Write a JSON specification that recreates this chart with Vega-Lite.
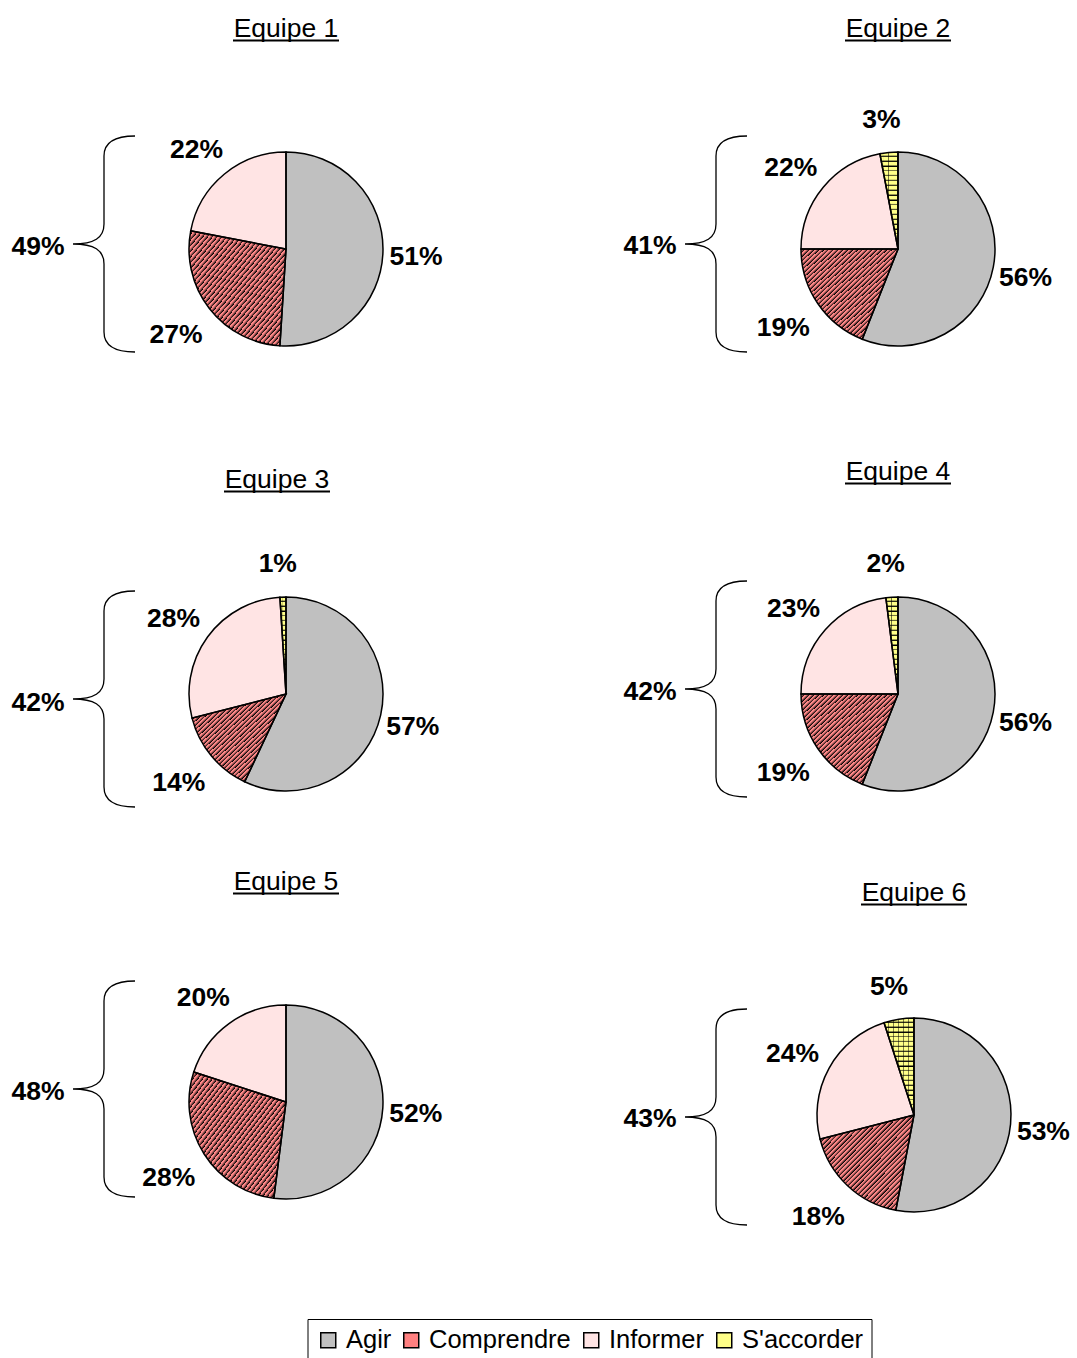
{
  "$schema": "https://vega.github.io/schema/vega-lite/v6.json",
  "padding": {"left": 11, "top": 15, "right": 0, "bottom": 0},
  "background": "white",
  "datasets": {
    "parts": [
      {"Equipe": "Equipe 1", "Categorie": "Agir", "Part": 0.51},
      {"Equipe": "Equipe 1", "Categorie": "Comprendre", "Part": 0.27},
      {"Equipe": "Equipe 1", "Categorie": "Informer", "Part": 0.22},
      {"Equipe": "Equipe 2", "Categorie": "Agir", "Part": 0.56},
      {"Equipe": "Equipe 2", "Categorie": "Comprendre", "Part": 0.19},
      {"Equipe": "Equipe 2", "Categorie": "Informer", "Part": 0.22},
      {"Equipe": "Equipe 2", "Categorie": "S'accorder", "Part": 0.03},
      {"Equipe": "Equipe 3", "Categorie": "Agir", "Part": 0.57},
      {"Equipe": "Equipe 3", "Categorie": "Comprendre", "Part": 0.14},
      {"Equipe": "Equipe 3", "Categorie": "Informer", "Part": 0.28},
      {"Equipe": "Equipe 3", "Categorie": "S'accorder", "Part": 0.01},
      {"Equipe": "Equipe 4", "Categorie": "Agir", "Part": 0.56},
      {"Equipe": "Equipe 4", "Categorie": "Comprendre", "Part": 0.19},
      {"Equipe": "Equipe 4", "Categorie": "Informer", "Part": 0.23},
      {"Equipe": "Equipe 4", "Categorie": "S'accorder", "Part": 0.02},
      {"Equipe": "Equipe 5", "Categorie": "Agir", "Part": 0.52},
      {"Equipe": "Equipe 5", "Categorie": "Comprendre", "Part": 0.28},
      {"Equipe": "Equipe 5", "Categorie": "Informer", "Part": 0.20},
      {"Equipe": "Equipe 6", "Categorie": "Agir", "Part": 0.53},
      {"Equipe": "Equipe 6", "Categorie": "Comprendre", "Part": 0.18},
      {"Equipe": "Equipe 6", "Categorie": "Informer", "Part": 0.24},
      {"Equipe": "Equipe 6", "Categorie": "S'accorder", "Part": 0.05}
    ],
    "accolades": [
      {"Equipe": "Equipe 1", "Total": 0.49},
      {"Equipe": "Equipe 2", "Total": 0.41},
      {"Equipe": "Equipe 3", "Total": 0.42},
      {"Equipe": "Equipe 4", "Total": 0.42},
      {"Equipe": "Equipe 5", "Total": 0.48},
      {"Equipe": "Equipe 6", "Total": 0.43}
    ]
  },
  "spacing": 40,
  "vconcat": [
    {
      "spacing": 172,
      "hconcat": [
        {
          "width": 330, "height": 338,
          "title": {"text": "Equipe 1", "offset": -5.5},
          "layer": [
            {
              "data": {"name": "parts"},
              "transform": [{"filter": {"field": "Equipe", "equal": "Equipe 1"}}],
              "encoding": {
                "theta": {"field": "Part", "type": "quantitative", "stack": true},
                "order": {"field": "Categorie", "type": "ordinal"},
                "detail": {"field": "Categorie", "type": "nominal"}
              },
              "layer": [
                {"mark": {"type": "arc", "outerRadius": 97}, "encoding": {"color": {"field": "Categorie", "type": "nominal", "scale": {"domain": ["Agir", "Comprendre", "Informer", "S'accorder"], "range": ["#c0c0c0", "#ff8080", "#ffe4e4", "#ffff88"]}, "legend": {"orient": "none", "legendX": 186.5, "legendY": 1239, "direction": "horizontal", "columns": 4, "title": null}}}},
                {"mark": {"type": "arc", "outerRadius": 97, "style": "hachures"}, "encoding": {"fillOpacity": {"condition": {"test": {"field": "Categorie", "equal": "Comprendre"}, "value": 1}, "value": 0}}},
                {"mark": {"type": "arc", "outerRadius": 97, "fillOpacity": 0, "stroke": "black", "strokeWidth": 1.5}},
                {"mark": {"type": "text", "radius": 134, "dx": -4, "dy": 4}, "encoding": {"text": {"field": "Part", "type": "quantitative", "format": ".0%"}}}
              ]
            },
            {
              "data": {"name": "accolades"},
              "transform": [{"filter": {"field": "Equipe", "equal": "Equipe 1"}}],
              "layer": [
                {"mark": {"type": "point", "shape": "M-151,-108C-170,-108,-182,-102,-182,-88L-182,-20C-182,-6,-192,0,-213,0C-192,0,-182,6,-182,20L-182,88C-182,102,-170,108,-151,108", "size": 4, "filled": false, "stroke": "black", "strokeWidth": 1.3, "opacity": 1, "yOffset": -5}, "encoding": {}},
                {"mark": {"type": "text", "dx": -248, "yOffset": -2}, "encoding": {"text": {"field": "Total", "type": "quantitative", "format": ".0%"}}},
                {"mark": {"type": "point", "shape": "M-53,0L53,0", "size": 4, "filled": false, "stroke": "black", "strokeWidth": 2, "opacity": 1, "yOffset": -208.5}, "encoding": {}}
              ]
            }
          ]
        },
        {
          "width": 300, "height": 338,
          "title": {"text": "Equipe 2", "offset": -5.5},
          "layer": [
            {
              "data": {"name": "parts"},
              "transform": [{"filter": {"field": "Equipe", "equal": "Equipe 2"}}],
              "encoding": {
                "theta": {"field": "Part", "type": "quantitative", "stack": true},
                "order": {"field": "Categorie", "type": "ordinal"},
                "detail": {"field": "Categorie", "type": "nominal"}
              },
              "layer": [
                {"mark": {"type": "arc", "outerRadius": 97}, "encoding": {"color": {"field": "Categorie", "type": "nominal", "scale": {"domain": ["Agir", "Comprendre", "Informer", "S'accorder"], "range": ["#c0c0c0", "#ff8080", "#ffe4e4", "#ffff88"]}, "legend": {"orient": "none", "legendX": 186.5, "legendY": 1239, "direction": "horizontal", "columns": 4, "title": null}}}},
                {"mark": {"type": "arc", "outerRadius": 97, "style": "hachures"}, "encoding": {"fillOpacity": {"condition": {"test": {"field": "Categorie", "equal": "Comprendre"}, "value": 1}, "value": 0}}},
                {"mark": {"type": "arc", "outerRadius": 97, "style": "grille"}, "encoding": {"fillOpacity": {"condition": {"test": {"field": "Categorie", "equal": "S'accorder"}, "value": 1}, "value": 0}}},
                {"mark": {"type": "arc", "outerRadius": 97, "style": "grilleV4"}, "encoding": {"fillOpacity": {"condition": {"test": {"field": "Categorie", "equal": "S'accorder"}, "value": 1}, "value": 0}}},
                {"mark": {"type": "arc", "outerRadius": 97, "fillOpacity": 0, "stroke": "black", "strokeWidth": 1.5}},
                {"mark": {"type": "text", "radius": 134, "dx": -4, "dy": 4}, "encoding": {"text": {"field": "Part", "type": "quantitative", "format": ".0%"}}}
              ]
            },
            {
              "data": {"name": "accolades"},
              "transform": [{"filter": {"field": "Equipe", "equal": "Equipe 2"}}],
              "layer": [
                {"mark": {"type": "point", "shape": "M-151,-108C-170,-108,-182,-102,-182,-88L-182,-20C-182,-6,-192,0,-213,0C-192,0,-182,6,-182,20L-182,88C-182,102,-170,108,-151,108", "size": 4, "filled": false, "stroke": "black", "strokeWidth": 1.3, "opacity": 1, "yOffset": -5}, "encoding": {}},
                {"mark": {"type": "text", "dx": -248, "yOffset": -3}, "encoding": {"text": {"field": "Total", "type": "quantitative", "format": ".0%"}}},
                {"mark": {"type": "point", "shape": "M-53,0L53,0", "size": 4, "filled": false, "stroke": "black", "strokeWidth": 2, "opacity": 1, "yOffset": -208.5}, "encoding": {}}
              ]
            }
          ]
        }
      ]
    },
    {
      "spacing": 172,
      "hconcat": [
        {
          "width": 330, "height": 268,
          "title": {"text": "Equipe 3", "offset": -5.5, "dx": -9},
          "layer": [
            {
              "data": {"name": "parts"},
              "transform": [{"filter": {"field": "Equipe", "equal": "Equipe 3"}}],
              "encoding": {
                "theta": {"field": "Part", "type": "quantitative", "stack": true},
                "order": {"field": "Categorie", "type": "ordinal"},
                "detail": {"field": "Categorie", "type": "nominal"}
              },
              "layer": [
                {"mark": {"type": "arc", "outerRadius": 97}, "encoding": {"color": {"field": "Categorie", "type": "nominal", "scale": {"domain": ["Agir", "Comprendre", "Informer", "S'accorder"], "range": ["#c0c0c0", "#ff8080", "#ffe4e4", "#ffff88"]}, "legend": {"orient": "none", "legendX": 186.5, "legendY": 1239, "direction": "horizontal", "columns": 4, "title": null}}}},
                {"mark": {"type": "arc", "outerRadius": 97, "style": "hachures"}, "encoding": {"fillOpacity": {"condition": {"test": {"field": "Categorie", "equal": "Comprendre"}, "value": 1}, "value": 0}}},
                {"mark": {"type": "arc", "outerRadius": 97, "style": "grille"}, "encoding": {"fillOpacity": {"condition": {"test": {"field": "Categorie", "equal": "S'accorder"}, "value": 1}, "value": 0}}},
                {"mark": {"type": "arc", "outerRadius": 97, "style": "grilleV1"}, "encoding": {"fillOpacity": {"condition": {"test": {"field": "Categorie", "equal": "S'accorder"}, "value": 1}, "value": 0}}},
                {"mark": {"type": "arc", "outerRadius": 97, "fillOpacity": 0, "stroke": "black", "strokeWidth": 1.5}},
                {"mark": {"type": "text", "radius": 134, "dx": -4, "dy": 4}, "encoding": {"text": {"field": "Part", "type": "quantitative", "format": ".0%"}}}
              ]
            },
            {
              "data": {"name": "accolades"},
              "transform": [{"filter": {"field": "Equipe", "equal": "Equipe 3"}}],
              "layer": [
                {"mark": {"type": "point", "shape": "M-151,-108C-170,-108,-182,-102,-182,-88L-182,-20C-182,-6,-192,0,-213,0C-192,0,-182,6,-182,20L-182,88C-182,102,-170,108,-151,108", "size": 4, "filled": false, "stroke": "black", "strokeWidth": 1.3, "opacity": 1, "yOffset": 5}, "encoding": {}},
                {"mark": {"type": "text", "dx": -248, "yOffset": 9}, "encoding": {"text": {"field": "Total", "type": "quantitative", "format": ".0%"}}},
                {"mark": {"type": "point", "shape": "M-53,0L53,0", "size": 4, "filled": false, "stroke": "black", "strokeWidth": 2, "opacity": 1, "yOffset": -202.5, "xOffset": -9}, "encoding": {}}
              ]
            }
          ]
        },
        {
          "width": 300, "height": 268,
          "title": {"text": "Equipe 4", "offset": -5.5},
          "layer": [
            {
              "data": {"name": "parts"},
              "transform": [{"filter": {"field": "Equipe", "equal": "Equipe 4"}}],
              "encoding": {
                "theta": {"field": "Part", "type": "quantitative", "stack": true},
                "order": {"field": "Categorie", "type": "ordinal"},
                "detail": {"field": "Categorie", "type": "nominal"}
              },
              "layer": [
                {"mark": {"type": "arc", "outerRadius": 97}, "encoding": {"color": {"field": "Categorie", "type": "nominal", "scale": {"domain": ["Agir", "Comprendre", "Informer", "S'accorder"], "range": ["#c0c0c0", "#ff8080", "#ffe4e4", "#ffff88"]}, "legend": {"orient": "none", "legendX": 186.5, "legendY": 1239, "direction": "horizontal", "columns": 4, "title": null}}}},
                {"mark": {"type": "arc", "outerRadius": 97, "style": "hachures"}, "encoding": {"fillOpacity": {"condition": {"test": {"field": "Categorie", "equal": "Comprendre"}, "value": 1}, "value": 0}}},
                {"mark": {"type": "arc", "outerRadius": 97, "style": "grille"}, "encoding": {"fillOpacity": {"condition": {"test": {"field": "Categorie", "equal": "S'accorder"}, "value": 1}, "value": 0}}},
                {"mark": {"type": "arc", "outerRadius": 97, "style": "grilleV2"}, "encoding": {"fillOpacity": {"condition": {"test": {"field": "Categorie", "equal": "S'accorder"}, "value": 1}, "value": 0}}},
                {"mark": {"type": "arc", "outerRadius": 97, "fillOpacity": 0, "stroke": "black", "strokeWidth": 1.5}},
                {"mark": {"type": "text", "radius": 134, "dx": -4, "dy": 4}, "encoding": {"text": {"field": "Part", "type": "quantitative", "format": ".0%"}}}
              ]
            },
            {
              "data": {"name": "accolades"},
              "transform": [{"filter": {"field": "Equipe", "equal": "Equipe 4"}}],
              "layer": [
                {"mark": {"type": "point", "shape": "M-151,-108C-170,-108,-182,-102,-182,-88L-182,-20C-182,-6,-192,0,-213,0C-192,0,-182,6,-182,20L-182,88C-182,102,-170,108,-151,108", "size": 4, "filled": false, "stroke": "black", "strokeWidth": 1.3, "opacity": 1, "yOffset": -5}, "encoding": {}},
                {"mark": {"type": "text", "dx": -248, "yOffset": -2}, "encoding": {"text": {"field": "Total", "type": "quantitative", "format": ".0%"}}},
                {"mark": {"type": "point", "shape": "M-53,0L53,0", "size": 4, "filled": false, "stroke": "black", "strokeWidth": 2, "opacity": 1, "yOffset": -210.5}, "encoding": {}}
              ]
            }
          ]
        }
      ]
    },
    {
      "spacing": 172,
      "hconcat": [
        {
          "width": 330, "height": 220,
          "title": {"text": "Equipe 5", "offset": -5.5},
          "layer": [
            {
              "data": {"name": "parts"},
              "transform": [{"filter": {"field": "Equipe", "equal": "Equipe 5"}}],
              "encoding": {
                "theta": {"field": "Part", "type": "quantitative", "stack": true},
                "order": {"field": "Categorie", "type": "ordinal"},
                "detail": {"field": "Categorie", "type": "nominal"}
              },
              "layer": [
                {"mark": {"type": "arc", "outerRadius": 97}, "encoding": {"color": {"field": "Categorie", "type": "nominal", "scale": {"domain": ["Agir", "Comprendre", "Informer", "S'accorder"], "range": ["#c0c0c0", "#ff8080", "#ffe4e4", "#ffff88"]}, "legend": {"orient": "none", "legendX": 186.5, "legendY": 1239, "direction": "horizontal", "columns": 4, "title": null}}}},
                {"mark": {"type": "arc", "outerRadius": 97, "style": "hachures"}, "encoding": {"fillOpacity": {"condition": {"test": {"field": "Categorie", "equal": "Comprendre"}, "value": 1}, "value": 0}}},
                {"mark": {"type": "arc", "outerRadius": 97, "fillOpacity": 0, "stroke": "black", "strokeWidth": 1.5}},
                {"mark": {"type": "text", "radius": 134, "dx": -4, "dy": 4}, "encoding": {"text": {"field": "Part", "type": "quantitative", "format": ".0%"}}}
              ]
            },
            {
              "data": {"name": "accolades"},
              "transform": [{"filter": {"field": "Equipe", "equal": "Equipe 5"}}],
              "layer": [
                {"mark": {"type": "point", "shape": "M-151,-108C-170,-108,-182,-102,-182,-88L-182,-20C-182,-6,-192,0,-213,0C-192,0,-182,6,-182,20L-182,88C-182,102,-170,108,-151,108", "size": 4, "filled": false, "stroke": "black", "strokeWidth": 1.3, "opacity": 1, "yOffset": -13}, "encoding": {}},
                {"mark": {"type": "text", "dx": -248, "yOffset": -10}, "encoding": {"text": {"field": "Total", "type": "quantitative", "format": ".0%"}}},
                {"mark": {"type": "point", "shape": "M-53,0L53,0", "size": 4, "filled": false, "stroke": "black", "strokeWidth": 2, "opacity": 1, "yOffset": -208.5}, "encoding": {}}
              ]
            }
          ]
        },
        {
          "width": 300, "height": 246,
          "title": {"text": "Equipe 6", "offset": -5.5},
          "layer": [
            {
              "data": {"name": "parts"},
              "transform": [{"filter": {"field": "Equipe", "equal": "Equipe 6"}}],
              "encoding": {
                "theta": {"field": "Part", "type": "quantitative", "stack": true},
                "order": {"field": "Categorie", "type": "ordinal"},
                "detail": {"field": "Categorie", "type": "nominal"}
              },
              "layer": [
                {"mark": {"type": "arc", "outerRadius": 97}, "encoding": {"color": {"field": "Categorie", "type": "nominal", "scale": {"domain": ["Agir", "Comprendre", "Informer", "S'accorder"], "range": ["#c0c0c0", "#ff8080", "#ffe4e4", "#ffff88"]}, "legend": {"orient": "none", "legendX": 186.5, "legendY": 1239, "direction": "horizontal", "columns": 4, "title": null}}}},
                {"mark": {"type": "arc", "outerRadius": 97, "style": "hachures"}, "encoding": {"fillOpacity": {"condition": {"test": {"field": "Categorie", "equal": "Comprendre"}, "value": 1}, "value": 0}}},
                {"mark": {"type": "arc", "outerRadius": 97, "style": "grille"}, "encoding": {"fillOpacity": {"condition": {"test": {"field": "Categorie", "equal": "S'accorder"}, "value": 1}, "value": 0}}},
                {"mark": {"type": "arc", "outerRadius": 97, "style": "grilleV6"}, "encoding": {"fillOpacity": {"condition": {"test": {"field": "Categorie", "equal": "S'accorder"}, "value": 1}, "value": 0}}},
                {"mark": {"type": "arc", "outerRadius": 97, "fillOpacity": 0, "stroke": "black", "strokeWidth": 1.5}},
                {"mark": {"type": "text", "radius": 134, "dx": -4, "dy": 4}, "encoding": {"text": {"field": "Part", "type": "quantitative", "format": ".0%"}}}
              ]
            },
            {
              "data": {"name": "accolades"},
              "transform": [{"filter": {"field": "Equipe", "equal": "Equipe 6"}}],
              "layer": [
                {"mark": {"type": "point", "shape": "M-151,-108C-170,-108,-182,-102,-182,-88L-182,-20C-182,-6,-192,0,-213,0C-192,0,-182,6,-182,20L-182,88C-182,102,-170,108,-151,108", "size": 4, "filled": false, "stroke": "black", "strokeWidth": 1.3, "opacity": 1, "yOffset": 2, "xOffset": -16}, "encoding": {}},
                {"mark": {"type": "text", "dx": -264, "yOffset": 4}, "encoding": {"text": {"field": "Total", "type": "quantitative", "format": ".0%"}}},
                {"mark": {"type": "point", "shape": "M-53,0L53,0", "size": 4, "filled": false, "stroke": "black", "strokeWidth": 2, "opacity": 1, "yOffset": -210.5}, "encoding": {}}
              ]
            }
          ]
        }
      ]
    }
  ],
  "config": {
    "view": {"stroke": null},
    "font": "Liberation Sans",
    "title": {"font": "Liberation Sans", "fontSize": 26.5, "fontWeight": "normal", "color": "black", "anchor": "middle", "frame": "group"},
    "text": {"font": "Liberation Sans", "fontWeight": "bold", "fontSize": 26.5, "color": "black"},
    "legend": {"symbolType": "square", "symbolSize": 225, "symbolStrokeColor": "black", "symbolStrokeWidth": 1.5, "labelFont": "Liberation Sans", "labelFontSize": 25.5, "labelColor": "black", "strokeColor": "black", "padding": 8, "columnPadding": 7, "labelOffset": 5},
    "style": {
      "hachures": {"color": {"gradient": "linear", "x1": 0, "y1": 0, "x2": 1, "y2": 1, "stops": [
        {"offset": 0, "color": "#f88"}, {"offset": 0.0075, "color": "#f88"}, {"offset": 0.025, "color": "#000"},
        {"offset": 0.025, "color": "#f88"}, {"offset": 0.0325, "color": "#f88"}, {"offset": 0.05, "color": "#000"},
        {"offset": 0.05, "color": "#f88"}, {"offset": 0.0575, "color": "#f88"}, {"offset": 0.075, "color": "#000"},
        {"offset": 0.075, "color": "#f88"}, {"offset": 0.0825, "color": "#f88"}, {"offset": 0.1, "color": "#000"},
        {"offset": 0.1, "color": "#f88"}, {"offset": 0.1075, "color": "#f88"}, {"offset": 0.125, "color": "#000"},
        {"offset": 0.125, "color": "#f88"}, {"offset": 0.1325, "color": "#f88"}, {"offset": 0.15, "color": "#000"},
        {"offset": 0.15, "color": "#f88"}, {"offset": 0.1575, "color": "#f88"}, {"offset": 0.175, "color": "#000"},
        {"offset": 0.175, "color": "#f88"}, {"offset": 0.1825, "color": "#f88"}, {"offset": 0.2, "color": "#000"},
        {"offset": 0.2, "color": "#f88"}, {"offset": 0.2075, "color": "#f88"}, {"offset": 0.225, "color": "#000"},
        {"offset": 0.225, "color": "#f88"}, {"offset": 0.2325, "color": "#f88"}, {"offset": 0.25, "color": "#000"},
        {"offset": 0.25, "color": "#f88"}, {"offset": 0.2575, "color": "#f88"}, {"offset": 0.275, "color": "#000"},
        {"offset": 0.275, "color": "#f88"}, {"offset": 0.2825, "color": "#f88"}, {"offset": 0.3, "color": "#000"},
        {"offset": 0.3, "color": "#f88"}, {"offset": 0.3075, "color": "#f88"}, {"offset": 0.325, "color": "#000"},
        {"offset": 0.325, "color": "#f88"}, {"offset": 0.3325, "color": "#f88"}, {"offset": 0.35, "color": "#000"},
        {"offset": 0.35, "color": "#f88"}, {"offset": 0.3575, "color": "#f88"}, {"offset": 0.375, "color": "#000"},
        {"offset": 0.375, "color": "#f88"}, {"offset": 0.3825, "color": "#f88"}, {"offset": 0.4, "color": "#000"},
        {"offset": 0.4, "color": "#f88"}, {"offset": 0.4075, "color": "#f88"}, {"offset": 0.425, "color": "#000"},
        {"offset": 0.425, "color": "#f88"}, {"offset": 0.4325, "color": "#f88"}, {"offset": 0.45, "color": "#000"},
        {"offset": 0.45, "color": "#f88"}, {"offset": 0.4575, "color": "#f88"}, {"offset": 0.475, "color": "#000"},
        {"offset": 0.475, "color": "#f88"}, {"offset": 0.4825, "color": "#f88"}, {"offset": 0.5, "color": "#000"},
        {"offset": 0.5, "color": "#f88"}, {"offset": 0.5075, "color": "#f88"}, {"offset": 0.525, "color": "#000"},
        {"offset": 0.525, "color": "#f88"}, {"offset": 0.5325, "color": "#f88"}, {"offset": 0.55, "color": "#000"},
        {"offset": 0.55, "color": "#f88"}, {"offset": 0.5575, "color": "#f88"}, {"offset": 0.575, "color": "#000"},
        {"offset": 0.575, "color": "#f88"}, {"offset": 0.5825, "color": "#f88"}, {"offset": 0.6, "color": "#000"},
        {"offset": 0.6, "color": "#f88"}, {"offset": 0.6075, "color": "#f88"}, {"offset": 0.625, "color": "#000"},
        {"offset": 0.625, "color": "#f88"}, {"offset": 0.6325, "color": "#f88"}, {"offset": 0.65, "color": "#000"},
        {"offset": 0.65, "color": "#f88"}, {"offset": 0.6575, "color": "#f88"}, {"offset": 0.675, "color": "#000"},
        {"offset": 0.675, "color": "#f88"}, {"offset": 0.6825, "color": "#f88"}, {"offset": 0.7, "color": "#000"},
        {"offset": 0.7, "color": "#f88"}, {"offset": 0.7075, "color": "#f88"}, {"offset": 0.725, "color": "#000"},
        {"offset": 0.725, "color": "#f88"}, {"offset": 0.7325, "color": "#f88"}, {"offset": 0.75, "color": "#000"},
        {"offset": 0.75, "color": "#f88"}, {"offset": 0.7575, "color": "#f88"}, {"offset": 0.775, "color": "#000"},
        {"offset": 0.775, "color": "#f88"}, {"offset": 0.7825, "color": "#f88"}, {"offset": 0.8, "color": "#000"},
        {"offset": 0.8, "color": "#f88"}, {"offset": 0.8075, "color": "#f88"}, {"offset": 0.825, "color": "#000"},
        {"offset": 0.825, "color": "#f88"}, {"offset": 0.8325, "color": "#f88"}, {"offset": 0.85, "color": "#000"},
        {"offset": 0.85, "color": "#f88"}, {"offset": 0.8575, "color": "#f88"}, {"offset": 0.875, "color": "#000"},
        {"offset": 0.875, "color": "#f88"}, {"offset": 0.8825, "color": "#f88"}, {"offset": 0.9, "color": "#000"},
        {"offset": 0.9, "color": "#f88"}, {"offset": 0.9075, "color": "#f88"}, {"offset": 0.925, "color": "#000"},
        {"offset": 0.925, "color": "#f88"}, {"offset": 0.9325, "color": "#f88"}, {"offset": 0.95, "color": "#000"},
        {"offset": 0.95, "color": "#f88"}, {"offset": 0.9575, "color": "#f88"}, {"offset": 0.975, "color": "#000"},
        {"offset": 0.975, "color": "#f88"}, {"offset": 0.9825, "color": "#f88"}, {"offset": 1, "color": "#000"}
      ]}},
      "grille": {"color": {"gradient": "linear", "x1": 0, "y1": 0, "x2": 0, "y2": 1, "stops": [
        {"offset": 0, "color": "#ff8"}, {"offset": 0.03, "color": "#ff8"}, {"offset": 0.05, "color": "#000"},
        {"offset": 0.05, "color": "#ff8"}, {"offset": 0.08, "color": "#ff8"}, {"offset": 0.1, "color": "#000"},
        {"offset": 0.1, "color": "#ff8"}, {"offset": 0.13, "color": "#ff8"}, {"offset": 0.15, "color": "#000"},
        {"offset": 0.15, "color": "#ff8"}, {"offset": 0.18, "color": "#ff8"}, {"offset": 0.2, "color": "#000"},
        {"offset": 0.2, "color": "#ff8"}, {"offset": 0.23, "color": "#ff8"}, {"offset": 0.25, "color": "#000"},
        {"offset": 0.25, "color": "#ff8"}, {"offset": 0.28, "color": "#ff8"}, {"offset": 0.3, "color": "#000"},
        {"offset": 0.3, "color": "#ff8"}, {"offset": 0.33, "color": "#ff8"}, {"offset": 0.35, "color": "#000"},
        {"offset": 0.35, "color": "#ff8"}, {"offset": 0.38, "color": "#ff8"}, {"offset": 0.4, "color": "#000"},
        {"offset": 0.4, "color": "#ff8"}, {"offset": 0.43, "color": "#ff8"}, {"offset": 0.45, "color": "#000"},
        {"offset": 0.45, "color": "#ff8"}, {"offset": 0.48, "color": "#ff8"}, {"offset": 0.5, "color": "#000"},
        {"offset": 0.5, "color": "#ff8"}, {"offset": 0.53, "color": "#ff8"}, {"offset": 0.55, "color": "#000"},
        {"offset": 0.55, "color": "#ff8"}, {"offset": 0.58, "color": "#ff8"}, {"offset": 0.6, "color": "#000"},
        {"offset": 0.6, "color": "#ff8"}, {"offset": 0.63, "color": "#ff8"}, {"offset": 0.65, "color": "#000"},
        {"offset": 0.65, "color": "#ff8"}, {"offset": 0.68, "color": "#ff8"}, {"offset": 0.7, "color": "#000"},
        {"offset": 0.7, "color": "#ff8"}, {"offset": 0.73, "color": "#ff8"}, {"offset": 0.75, "color": "#000"},
        {"offset": 0.75, "color": "#ff8"}, {"offset": 0.78, "color": "#ff8"}, {"offset": 0.8, "color": "#000"},
        {"offset": 0.8, "color": "#ff8"}, {"offset": 0.83, "color": "#ff8"}, {"offset": 0.85, "color": "#000"},
        {"offset": 0.85, "color": "#ff8"}, {"offset": 0.88, "color": "#ff8"}, {"offset": 0.9, "color": "#000"},
        {"offset": 0.9, "color": "#ff8"}, {"offset": 0.93, "color": "#ff8"}, {"offset": 0.95, "color": "#000"},
        {"offset": 0.95, "color": "#ff8"}, {"offset": 0.98, "color": "#ff8"}, {"offset": 1, "color": "#000"}
      ]}},
      "grilleV1": {"color": {"gradient": "linear", "x1": 0, "y1": 0, "x2": 1, "y2": 0, "stops": [
        {"offset": 0, "color": "rgba(0,0,0,0)"}, {"offset": 0.4, "color": "rgba(0,0,0,0)"}, {"offset": 0.55, "color": "#000"},
        {"offset": 0.55, "color": "rgba(0,0,0,0)"}, {"offset": 1, "color": "rgba(0,0,0,0)"}
      ]}},
      "grilleV2": {"color": {"gradient": "linear", "x1": 0, "y1": 0, "x2": 1, "y2": 0, "stops": [
        {"offset": 0, "color": "rgba(0,0,0,0)"}, {"offset": 0.42, "color": "rgba(0,0,0,0)"}, {"offset": 0.5, "color": "#000"},
        {"offset": 0.5, "color": "rgba(0,0,0,0)"}, {"offset": 0.92, "color": "rgba(0,0,0,0)"}, {"offset": 1, "color": "#000"}
      ]}},
      "grilleV4": {"color": {"gradient": "linear", "x1": 0, "y1": 0, "x2": 1, "y2": 0, "stops": [
        {"offset": 0, "color": "rgba(0,0,0,0)"}, {"offset": 0.2, "color": "rgba(0,0,0,0)"}, {"offset": 0.25, "color": "#000"},
        {"offset": 0.25, "color": "rgba(0,0,0,0)"}, {"offset": 0.45, "color": "rgba(0,0,0,0)"}, {"offset": 0.5, "color": "#000"},
        {"offset": 0.5, "color": "rgba(0,0,0,0)"}, {"offset": 0.7, "color": "rgba(0,0,0,0)"}, {"offset": 0.75, "color": "#000"},
        {"offset": 0.75, "color": "rgba(0,0,0,0)"}, {"offset": 0.95, "color": "rgba(0,0,0,0)"}, {"offset": 1, "color": "#000"}
      ]}},
      "grilleV6": {"color": {"gradient": "linear", "x1": 0, "y1": 0, "x2": 1, "y2": 0, "stops": [
        {"offset": 0, "color": "rgba(0,0,0,0)"}, {"offset": 0.1333, "color": "rgba(0,0,0,0)"}, {"offset": 0.1667, "color": "#000"},
        {"offset": 0.1667, "color": "rgba(0,0,0,0)"}, {"offset": 0.3, "color": "rgba(0,0,0,0)"}, {"offset": 0.3333, "color": "#000"},
        {"offset": 0.3333, "color": "rgba(0,0,0,0)"}, {"offset": 0.4667, "color": "rgba(0,0,0,0)"}, {"offset": 0.5, "color": "#000"},
        {"offset": 0.5, "color": "rgba(0,0,0,0)"}, {"offset": 0.6333, "color": "rgba(0,0,0,0)"}, {"offset": 0.6667, "color": "#000"},
        {"offset": 0.6667, "color": "rgba(0,0,0,0)"}, {"offset": 0.8, "color": "rgba(0,0,0,0)"}, {"offset": 0.8333, "color": "#000"},
        {"offset": 0.8333, "color": "rgba(0,0,0,0)"}, {"offset": 0.9667, "color": "rgba(0,0,0,0)"}, {"offset": 1, "color": "#000"}
      ]}}
    }
  }
}
